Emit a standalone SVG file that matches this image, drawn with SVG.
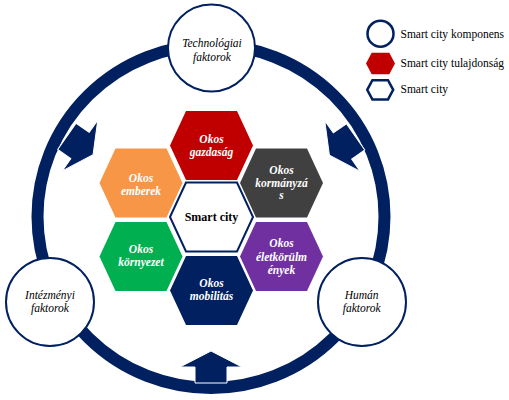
<svg xmlns="http://www.w3.org/2000/svg" xmlns:xlink="http://www.w3.org/1999/xlink" width="509" height="400" viewBox="0 0 509 400">
<style>
.t{font-family:"Liberation Serif","DejaVu Serif",serif;}
.hx{font-family:"Liberation Serif","DejaVu Serif",serif;font-size:11.5px;font-weight:bold;font-style:italic;fill:#fff;text-anchor:middle;}
.ct{font-family:"Liberation Serif","DejaVu Serif",serif;font-size:11.5px;font-style:italic;fill:#000;text-anchor:middle;}
.lg{font-family:"Liberation Serif","DejaVu Serif",serif;font-size:11.5px;fill:#000;}
.circ{fill:#fff;stroke:#002060;stroke-width:2;}
.arr{fill:#002060;stroke:#fff;stroke-width:1;}
</style>
<defs>
<polygon id="hex" points="-41.5,0 -25.5,-34.5 25.5,-34.5 41.5,0 25.5,34.5 -25.5,34.5"/>
<polygon id="arrow" points="0,-16 31,0 16,0 16,16 -16,16 -16,0 -31,0"/>
</defs>
<rect width="509" height="400" fill="#fff"/>
<g id="connectors">
<ellipse cx="211" cy="216.5" rx="173.5" ry="171.5" fill="none" stroke="#002060" stroke-width="12"/>
<use xlink:href="#arrow" class="arr" transform="translate(211,367)"/>
<use xlink:href="#arrow" class="arr" transform="translate(80,145.5) rotate(125)"/>
<use xlink:href="#arrow" class="arr" transform="translate(342.5,146) rotate(-125)"/>
</g>
<g id="technologiai">
<circle class="circ" cx="211.5" cy="48" r="43.5"/>
<text class="ct" x="212" y="46.5">Technológiai</text>
<text class="ct" x="212" y="60.5">faktorok</text>
</g>
<g id="intezmenyi">
<circle class="circ" cx="50" cy="302" r="44"/>
<text class="ct" x="50" y="298.7">Intézményi</text>
<text class="ct" x="50" y="311.7">faktorok</text>
</g>
<g id="human">
<circle class="circ" cx="362" cy="302" r="44"/>
<text class="ct" x="361.7" y="298.7">Humán</text>
<text class="ct" x="361.7" y="311.7">faktorok</text>
</g>
<g id="okos-gazdasag">
<use xlink:href="#hex" fill="#C00000" transform="translate(211.5,145.5)"/>
<text class="hx" x="211.5" y="142.5">Okos</text>
<text class="hx" x="211.5" y="156">gazdaság</text>
</g>
<g id="okos-emberek">
<use xlink:href="#hex" fill="#F79646" transform="translate(141,183)"/>
<text class="hx" x="141" y="182">Okos</text>
<text class="hx" x="141" y="194.5">emberek</text>
</g>
<g id="okos-kormanyzas">
<use xlink:href="#hex" fill="#404040" transform="translate(281.5,183)"/>
<text class="hx" x="281.5" y="174">Okos</text>
<text class="hx" x="281.5" y="186.7">kormányzá</text>
<text class="hx" x="281.5" y="199.3">s</text>
</g>
<g id="smart-city">
<use xlink:href="#hex" fill="#fff" stroke="#002060" stroke-width="2" transform="translate(211.5,217)"/>
<text class="t" x="211.5" y="221" font-size="12" font-weight="bold" text-anchor="middle" fill="#000">Smart city</text>
</g>
<g id="okos-kornyezet">
<use xlink:href="#hex" fill="#00B050" transform="translate(141,256.5)"/>
<text class="hx" x="141" y="253.3">Okos</text>
<text class="hx" x="141" y="266">környezet</text>
</g>
<g id="okos-eletkorulmenyek">
<use xlink:href="#hex" fill="#7030A0" transform="translate(281.5,256.5)"/>
<text class="hx" x="281.5" y="247.3">Okos</text>
<text class="hx" x="281.5" y="260.7">életkörülm</text>
<text class="hx" x="281.5" y="274">ények</text>
</g>
<g id="okos-mobilitas">
<use xlink:href="#hex" fill="#002060" transform="translate(211.5,290.5)"/>
<text class="hx" x="211.5" y="287.3">Okos</text>
<text class="hx" x="211.5" y="300">mobilitás</text>
</g>
<g id="legend">
<circle cx="380.5" cy="33.7" r="13" fill="#fff" stroke="#002060" stroke-width="2.5"/>
<polygon points="366,63.5 371.7,52.7 389.3,52.7 395,63.5 389.3,74.3 371.7,74.3" fill="#C00000"/>
<polygon points="367.2,89.8 372.4,80.2 388,80.2 393.2,89.8 388,99.4 372.4,99.4" fill="#fff" stroke="#002060" stroke-width="2.5"/>
<text class="lg" x="400.5" y="38.3">Smart city komponens</text>
<text class="lg" x="400.5" y="66.7">Smart city tulajdonság</text>
<text class="lg" x="400.5" y="93.3">Smart city</text>
</g>
</svg>
